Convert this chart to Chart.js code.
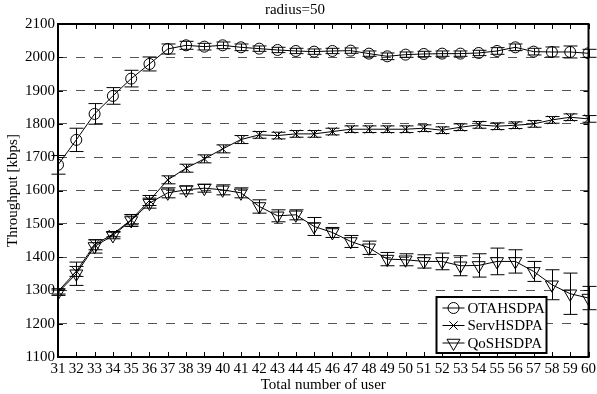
<!DOCTYPE html>
<html>
<head>
<meta charset="utf-8">
<script src="https://cdn.jsdelivr.net/npm/chart.js@4/dist/chart.umd.min.js"></script>
<style>
  html, body { margin: 0; padding: 0; background: #fff; }
  #wrap { width: 597px; height: 394px; }
</style>
</head>
<body>
<div id="wrap"><canvas id="chart" width="597" height="394"></canvas></div>
<script>
// data
const users = [31,32,33,34,35,36,37,38,39,40,41,42,43,44,45,46,47,48,49,50,51,52,53,54,55,56,57,58,59,60];

const ota    = [1677,1752,1830,1884,1936,1980,2025,2036,2032,2036,2030,2026,2022,2019,2017,2019,2020,2011,2003,2008,2010,2011,2011,2013,2019,2030,2017,2016,2016,2012];
const otaErr = [28,35,31,25,25,21,15,12,10,10,10,8,8,8,8,8,8,8,10,8,8,8,8,8,10,10,10,15,18,12];

const serv    = [1297,1357,1437,1469,1512,1570,1632,1667,1695,1725,1753,1767,1765,1770,1770,1777,1784,1784,1784,1784,1787,1781,1790,1797,1793,1796,1800,1812,1820,1815];
const servErr = [8,15,15,8,15,15,12,12,12,12,12,10,10,10,10,10,10,10,10,10,10,10,10,10,10,10,10,10,10,10];

const qos    = [1293,1350,1432,1465,1510,1562,1593,1602,1607,1602,1593,1552,1524,1527,1492,1474,1447,1428,1394,1392,1387,1387,1374,1375,1387,1387,1357,1317,1290,1277];
const qosErr = [8,35,20,10,18,15,15,12,12,15,15,20,18,15,27,15,18,20,20,18,20,25,30,35,40,35,30,45,62,35];

const yTicks = [1100,1200,1300,1400,1500,1600,1700,1800,1900,2000,2100];

const FONT = "'Liberation Serif', 'Times New Roman', serif";

function pts(vals) {
  return vals.map((v, i) => ({ x: users[i], y: v }));
}

// error bars drawn through the scales
const errorBars = {
  id: "errorBars",
  afterDatasetsDraw(chart) {
    const { ctx, scales: { x, y } } = chart;
    ctx.save();
    ctx.strokeStyle = "#000";
    ctx.lineWidth = 1;
    chart.data.datasets.forEach(ds => {
      ds.data.forEach((p, i) => {
        const e = ds.errors[i];
        const px = Math.round(x.getPixelForValue(p.x)) + 0.5;
        const top = y.getPixelForValue(p.y + e);
        const bot = y.getPixelForValue(p.y - e);
        ctx.beginPath();
        ctx.moveTo(px, top); ctx.lineTo(px, bot);
        ctx.moveTo(px - 7, top); ctx.lineTo(px + 7, top);
        ctx.moveTo(px - 7, bot); ctx.lineTo(px + 7, bot);
        ctx.stroke();
      });
    });
    ctx.restore();
  }
};

// frame, inward ticks, legend box
const frame = {
  id: "frame",
  afterDraw(chart) {
    const { ctx, chartArea: a, scales: { x, y } } = chart;
    ctx.save();
    ctx.strokeStyle = "#000";
    ctx.lineWidth = 1;
    ctx.beginPath();
    x.ticks.forEach(t => {
      const px = Math.round(x.getPixelForValue(t.value)) + 0.5;
      ctx.moveTo(px, a.bottom); ctx.lineTo(px, a.bottom - 5);
      ctx.moveTo(px, a.top); ctx.lineTo(px, a.top + 5);
    });
    y.ticks.forEach(t => {
      const py = Math.round(y.getPixelForValue(t.value)) + 0.5;
      ctx.moveTo(a.left, py); ctx.lineTo(a.left + 5, py);
      ctx.moveTo(a.right, py); ctx.lineTo(a.right - 5, py);
    });
    ctx.stroke();
    ctx.lineWidth = 2;
    ctx.strokeRect(a.left, a.top, a.right - a.left, a.bottom - a.top);

    // legend
    const bw = 110, bh = 56;
    const bx = a.right - 42 - bw, by = a.bottom - 4 - bh;
    ctx.fillStyle = "#fff";
    ctx.fillRect(bx, by, bw, bh);
    ctx.lineWidth = 2;
    ctx.strokeRect(bx, by, bw, bh);
    ctx.font = "15px " + FONT;
    ctx.textBaseline = "middle";
    ctx.textAlign = "left";
    chart.data.datasets.forEach((ds, i) => {
      const ly = by + 11 + i * 17.5;
      ctx.lineWidth = 1;
      ctx.strokeStyle = "#000";
      ctx.fillStyle = "#fff";
      Chart.helpers.drawPoint(ctx, {
        pointStyle: ds.pointStyle,
        radius: ds.pointRadius,
        rotation: ds.pointRotation || 0,
        borderWidth: 1
      }, bx + 17, ly);
      ctx.beginPath();
      ctx.moveTo(bx + 6, ly); ctx.lineTo(bx + 28, ly);
      ctx.stroke();
      ctx.fillStyle = "#000";
      ctx.fillText(ds.label, bx + 31, ly + 1);
    });
    ctx.restore();
  }
};

const ctx = document.getElementById("chart").getContext("2d");
new Chart(ctx, {
  type: "line",
  data: {
    datasets: [
      { label: "OTAHSDPA", data: pts(ota), errors: otaErr, pointStyle: "circle", pointRadius: 5.5 },
      { label: "ServHSDPA", data: pts(serv), errors: servErr, pointStyle: "crossRot", pointRadius: 6 },
      { label: "QoSHSDPA", data: pts(qos), errors: qosErr, pointStyle: "triangle", pointRadius: 7.5, pointRotation: 180 }
    ].map(d => Object.assign({
      borderColor: "#000",
      borderWidth: 1,
      pointBorderColor: "#000",
      pointBackgroundColor: "rgba(0,0,0,0)",
      pointBorderWidth: 1,
      fill: false,
      tension: 0
    }, d))
  },
  options: {
    responsive: false,
    animation: false,
    layout: { padding: { left: 0, right: 7, top: 0, bottom: 0 } },
    plugins: {
      legend: { display: false },
      tooltip: { enabled: false },
      title: {
        display: true,
        text: "radius=50",
        color: "#000",
        font: { family: FONT, size: 15, weight: "normal", lineHeight: 1.2 },
        padding: { top: 1, bottom: 5 }
      }
    },
    scales: {
      x: {
        type: "linear",
        min: 31, max: 60,
        afterFit(s) { s.height = 37; s.paddingLeft = 0; s.paddingRight = 0; },
        grid: { display: false, drawTicks: false },
        border: { display: false },
        ticks: {
          stepSize: 1, padding: 3, autoSkip: false, maxRotation: 0, minRotation: 0,
          color: "#000", font: { family: FONT, size: 15 },
          callback: v => String(v)
        },
        title: { display: true, text: "Total number of user", color: "#000", padding: { top: 0, bottom: 0 }, font: { family: FONT, size: 15 } }
      },
      y: {
        min: 1100, max: 2100,
        afterFit(s) { s.width = 58; },
        afterBuildTicks(s) { s.ticks = yTicks.map(v => ({ value: v })); },
        grid: {
          drawTicks: false,
          color: c => (c.tick && (c.tick.value === 1100 || c.tick.value === 2100)) ? "rgba(0,0,0,0)" : "#555",
          lineWidth: 1
        },
        border: { display: false, dash: [9, 9] },
        ticks: { padding: 3, color: "#000", font: { family: FONT, size: 15 }, callback: v => String(v) },
        title: { display: true, text: "Throughput [kbps]", color: "#000", padding: { top: 4, bottom: 0 }, font: { family: FONT, size: 15 } }
      }
    }
  },
  plugins: [errorBars, frame]
});
</script>
</body>
</html>
